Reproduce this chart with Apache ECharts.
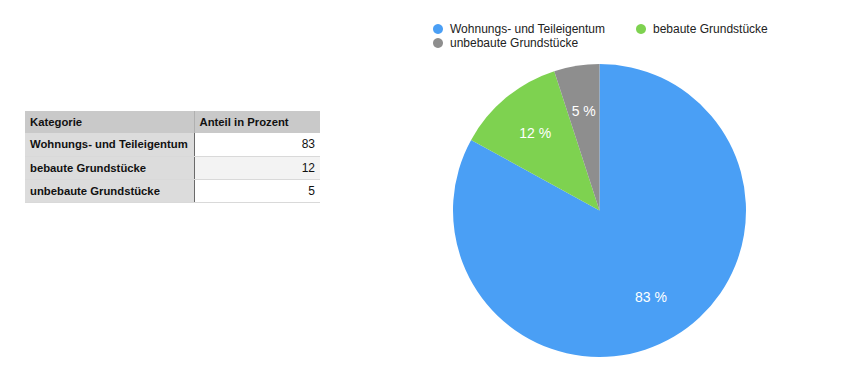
<!DOCTYPE html>
<html>
<head>
<meta charset="utf-8">
<script src="https://cdn.jsdelivr.net/npm/echarts@6/dist/echarts.min.js"></script>
<style>
  html, body { margin: 0; padding: 0; background: #ffffff; }
  #wrap { position: relative; width: 843px; height: 373px; overflow: hidden; }
  #chart { position: absolute; left: 0; top: 0; width: 843px; height: 373px; }
  #tbl { position: absolute; left: 25px; top: 111px; border-collapse: collapse;
         font-family: "Liberation Sans", Arial, sans-serif; font-size: 11.3px; color: #111; }
  #tbl th, #tbl td { padding: 0 5px; box-sizing: border-box; }
  #tbl th { background: #c9c9c9; height: 22px; text-align: left; font-weight: bold; }
  #tbl td { height: 23px; border-bottom: 1px solid #d9d9d9; }
  #tbl td.cat { background: #dcdcdc; font-weight: bold; width: 169px; border-right: 1px solid #6a6a6a; }
  #tbl td.val { text-align: right; width: 126px; background: #ffffff; font-size: 12px; }
  #tbl tr.alt td.val { background: #f3f3f3; }
  #tbl th.h1 { width: 169px; border-right: 1px solid #b0b0b0; }
  #tbl th.h2 { width: 126px; }
</style>
</head>
<body>
<div id="wrap">
  <div id="chart"></div>
  <table id="tbl"></table>
</div>
<script>
// ---- data ----
var headers = ['Kategorie', 'Anteil in Prozent'];
var categories = ['Wohnungs- und Teileigentum', 'bebaute Grundstücke', 'unbebaute Grundstücke'];
var values = [83, 12, 5];
var colors = ['#4a9ff5', '#7ed250', '#8e8e8e'];

// ---- table ----
var tbl = document.getElementById('tbl');
var html = '<tr><th class="h1">' + headers[0] + '</th><th class="h2">' + headers[1] + '</th></tr>';
categories.forEach(function (c, i) {
  html += '<tr' + (i % 2 === 1 ? ' class="alt"' : '') + '><td class="cat">' + c + '</td><td class="val">' + values[i] + '</td></tr>';
});
tbl.innerHTML = html;

// ---- chart ----
var chart = echarts.init(document.getElementById('chart'), null, { renderer: 'svg' });
var pieData = categories.map(function (c, i) {
  return { name: c, value: values[i], itemStyle: { color: colors[i] } };
});
var labelData = categories.map(function (c, i) {
  return { name: c, value: values[i] };
});
function legendFor(i, left, top) {
  return {
    data: [{ name: categories[i], itemStyle: { color: colors[i] } }],
    left: left, top: top, icon: 'circle', itemWidth: 14, itemHeight: 10,
    padding: 0, selectedMode: false,
    textStyle: { fontFamily: 'Liberation Sans, Arial, sans-serif', fontSize: 12, color: '#222' }
  };
}
chart.setOption({
  animation: false,
  legend: [legendFor(0, 433, 23), legendFor(1, 636, 23), legendFor(2, 433, 37)],
  series: [
    {
      type: 'pie',
      center: [599.5, 210.5],
      radius: [0, 146.5],
      startAngle: 90,
      clockwise: true,
      label: { show: false },
      labelLine: { show: false },
      itemStyle: { borderWidth: 0 },
      emphasis: { disabled: true },
      data: pieData
    },
    {
      type: 'pie',
      center: [599.5, 210.5],
      radius: [0, 196],
      startAngle: 90,
      clockwise: true,
      silent: true,
      legendHoverLink: false,
      itemStyle: { color: 'rgba(0,0,0,0)', borderWidth: 0 },
      emphasis: { disabled: true },
      label: {
        show: true, position: 'inside',
        formatter: function (p) { return p.value + ' %'; },
        color: '#ffffff', fontSize: 14, fontWeight: 500, fontFamily: 'Liberation Sans, Arial, sans-serif'
      },
      labelLine: { show: false },
      data: labelData
    }
  ]
});
</script>
</body>
</html>
